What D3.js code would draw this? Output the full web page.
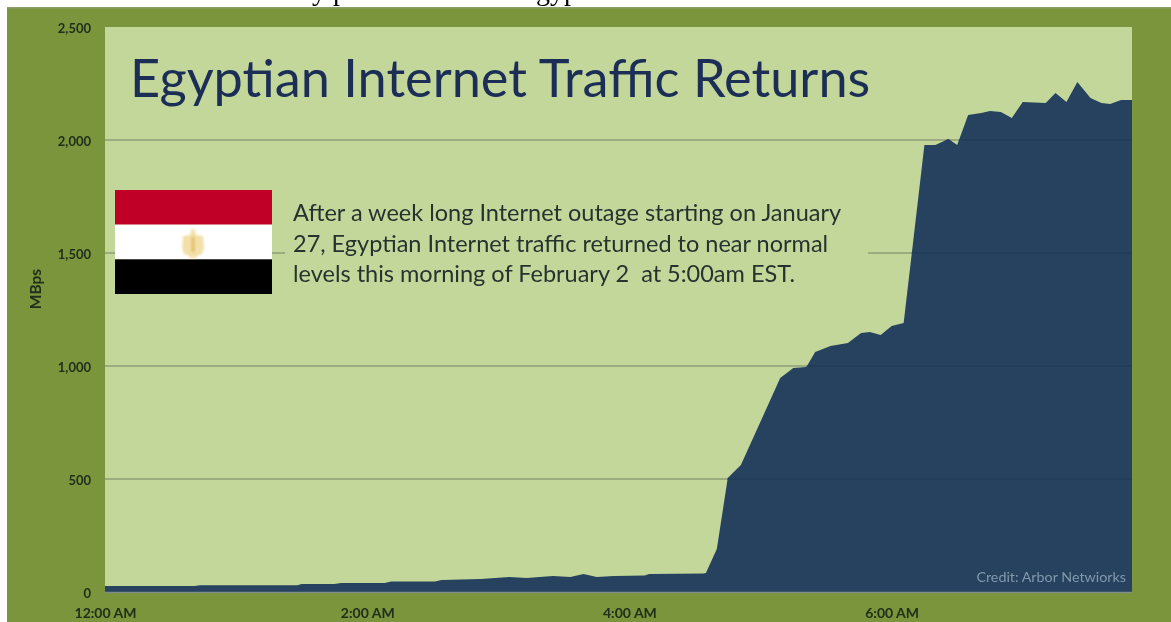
<!DOCTYPE html>
<html>
<head>
<meta charset="utf-8">
<title>Egyptian Internet Traffic Returns</title>
<script src="https://cdn.jsdelivr.net/npm/d3@7"></script>
<style>
    html, body { margin: 0; padding: 0; background: #fff; overflow: hidden; }
    svg { display: block; font-family: Lato, "Open Sans", sans-serif; }
</style>
</head>
<body>
<div id="chart"></div>
<script>
// minutes after midnight
const minutes = [0, 41, 43.5, 88, 90, 105, 108, 128, 131, 151, 154, 172, 185, 193, 205, 213, 219, 225, 233, 247, 249, 274,
    275, 280, 285, 291, 309, 315, 321, 325, 332, 340, 346, 350, 355, 360, 365.5,
    375, 380, 386, 390, 395, 401, 405, 410, 415, 420, 430.5, 435, 440, 445, 451, 456, 460, 465, 470];
const mbps = [26, 26, 30, 30, 35, 35, 40, 40, 47, 47, 53, 58, 66, 62, 71, 66, 80, 66, 71, 73, 80, 82,
    84, 190, 504, 562, 947, 991, 996, 1062, 1089, 1102, 1146, 1150, 1137, 1177, 1190,
    1978, 1978, 2004, 1978, 2111, 2120, 2128, 2124, 2097, 2168, 2164, 2208, 2168, 2257, 2186, 2164, 2159, 2177, 2177];

const yTicks = [0, 500, 1000, 1500, 2000, 2500];
const gridTicks = [500, 1000, 1500, 2000];
const xTicks = [0, 120, 240, 360];
const xLabels = ['12:00 AM', '2:00 AM', '4:00 AM', '6:00 AM'];
const flagStripes = ['#c00027', '#ffffff', '#000000'];
const bodyLines = [
    'After a week long Internet outage starting on January',
    '27, Egyptian Internet traffic returned to near normal',
    'levels this morning of February 2  at 5:00am EST.'
];

const width = 1171;
const height = 622;
const margin = { top: 27, right: 39, bottom: 30, left: 105 };
const plotRight = width - margin.right;
const plotBottom = height - margin.bottom;

const svg = d3.select('#chart')
    .append('svg')
    .attr('width', width)
    .attr('height', height);

const x = d3.scaleLinear().domain([0, 470]).range([margin.left, plotRight]);
const y = d3.scaleLinear().domain([0, 2500]).range([plotBottom, margin.top]);

const area = d3.area()
    .x((d, i) => x(minutes[i]))
    .y0(plotBottom)
    .y1(d => y(d));

const defs = svg.append('defs');
defs.append('filter').attr('id', 'soft')
    .append('feGaussianBlur').attr('stdDeviation', 0.45);
defs.append('filter').attr('id', 'softer')
    .append('feGaussianBlur').attr('stdDeviation', 0.8);
defs.append('clipPath').attr('id', 'under-area')
    .append('path')
    .datum(mbps)
    .attr('d', area);

// the picture is a soft scan, so everything gets a slight blur
const root = svg.append('g')
    .attr('filter', 'url(#soft)');

// the cut off line of text above the slide
root.append('g')
    .attr('font-family', '"Liberation Serif", serif')
    .attr('font-size', 28)
    .attr('fill', '#000')
    .selectAll('text')
    .data([{ t: 'y p', at: 312 }, { t: 'gyp', at: 536 }])
    .join('text')
    .attr('x', d => d.at)
    .attr('y', 0)
    .text(d => d.t);

// slide background
root.append('rect')
    .attr('x', 7).attr('y', 7)
    .attr('width', width).attr('height', height)
    .attr('fill', '#7a953a');

root.append('rect')
    .attr('x', 7).attr('y', 7)
    .attr('width', width).attr('height', 1.5)
    .attr('fill', '#8d9d6c');

root.append('rect')
    .attr('x', margin.left).attr('y', margin.top)
    .attr('width', plotRight - margin.left).attr('height', plotBottom - margin.top)
    .attr('fill', '#c4d79b');

// grid lines
root.append('g')
    .selectAll('line')
    .data(gridTicks)
    .join('line')
    .attr('x1', margin.left)
    .attr('x2', plotRight)
    .attr('y1', d => y(d))
    .attr('y2', d => y(d))
    .attr('stroke', '#8f9e78')
    .attr('stroke-width', 1.5);

// area
root.append('path')
    .datum(mbps)
    .attr('d', area)
    .attr('fill', '#25425f');

// grid lines are faintly visible through the area
root.append('g')
    .attr('clip-path', 'url(#under-area)')
    .selectAll('line')
    .data(gridTicks)
    .join('line')
    .attr('x1', margin.left)
    .attr('x2', plotRight)
    .attr('y1', d => y(d))
    .attr('y2', d => y(d))
    .attr('stroke', '#213c59')
    .attr('stroke-width', 1.5);

// base line
root.append('line')
    .attr('x1', margin.left).attr('x2', plotRight)
    .attr('y1', plotBottom + 0.5).attr('y2', plotBottom + 0.5)
    .attr('stroke', '#7f8f8c')
    .attr('stroke-width', 1.5);

// Draw Y Axis
const yAxis = d3.axisLeft(y)
    .tickValues(yTicks)
    .tickSize(0)
    .tickPadding(14)
    .tickFormat(d3.format(','));

const yGroup = root.append('g')
    .attr('transform', `translate(${margin.left}, 1)`)
    .call(yAxis);
yGroup.select('.domain').remove();
yGroup.selectAll('text')
    .attr('font-family', 'Lato, sans-serif')
    .attr('font-size', 13)
    .attr('font-weight', 700)
    .attr('fill', '#222d1c');

// Draw X Axis
const xAxis = d3.axisBottom(x)
    .tickValues(xTicks)
    .tickSize(0)
    .tickPadding(16)
    .tickFormat((d, i) => xLabels[i]);

const xGroup = root.append('g')
    .attr('transform', `translate(0, ${plotBottom})`)
    .call(xAxis);
xGroup.select('.domain').remove();
xGroup.selectAll('text')
    .attr('font-family', 'Lato, sans-serif')
    .attr('font-size', 14)
    .attr('font-weight', 700)
    .attr('fill', '#222d1c');

root.append('text')
    .attr('transform', 'translate(41, 289) rotate(-90)')
    .attr('text-anchor', 'middle')
    .attr('font-size', 15.5)
    .attr('font-weight', 700)
    .attr('fill', '#222d1c')
    .text('MBps');

// title
root.append('text')
    .attr('x', 130)
    .attr('y', 97)
    .attr('font-size', 52.3)
    .attr('fill', '#1a2f55')
    .text('Egyptian Internet Traffic Returns');

// text box hides the 1,500 grid line
root.append('rect')
    .attr('x', 285).attr('y', 195)
    .attr('width', 583).attr('height', 100)
    .attr('fill', '#c4d79b');

root.append('g')
    .selectAll('text')
    .data(bodyLines)
    .join('text')
    .attr('x', 293)
    .attr('y', (d, i) => 221 + i * 30.5)
    .attr('font-size', 23.5)
    .attr('fill', '#26332f')
    .style('white-space', 'pre')
    .text(d => d);

// flag
const flagY = d3.scaleBand().domain(d3.range(3)).range([190, 294]);
root.append('g')
    .selectAll('rect')
    .data(flagStripes)
    .join('rect')
    .attr('x', 115)
    .attr('y', (d, i) => flagY(i))
    .attr('width', 157)
    .attr('height', flagY.bandwidth())
    .attr('fill', d => d);

// eagle on the flag
root.append('path')
    .attr('d', 'M193 228 l2 3 l1 4 l7 1 l1 12 l-2 6 l-5 2 l-1 2 h-6 l-1 -2 l-5 -2 l-2 -6 l1 -12 l7 -1 l1 -4 z')
    .attr('fill', '#f3dfa8')
    .attr('filter', 'url(#softer)');
root.append('rect')
    .attr('x', 191).attr('y', 237)
    .attr('width', 4).attr('height', 15)
    .attr('fill', '#e6c67c')
    .attr('filter', 'url(#softer)');

// credit
root.append('text')
    .attr('x', 1126)
    .attr('y', 582)
    .attr('text-anchor', 'end')
    .attr('font-size', 14.3)
    .attr('fill', '#8398ab')
    .text('Credit: Arbor Netwiorks');
</script>
</body>
</html>
